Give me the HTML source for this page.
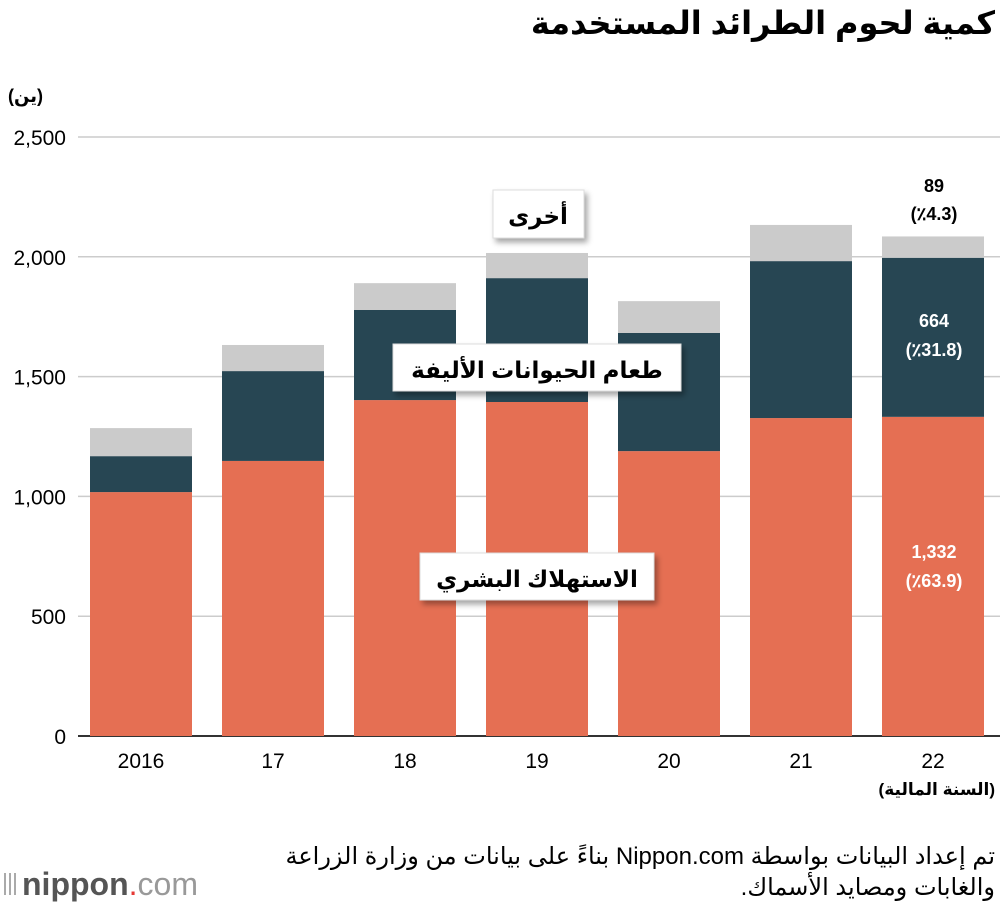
<!DOCTYPE html>
<html><head><meta charset="utf-8">
<style>
body{margin:0;background:#fff;width:1000px;height:906px;overflow:hidden;font-family:"Liberation Sans","Noto Sans CJK SC",sans-serif}
svg{position:absolute;left:0;top:0}
.ar{font-family:"Liberation Sans","Noto Sans CJK SC","DejaVu Sans",sans-serif}
</style></head><body>
<svg id="c" width="1000" height="906" xmlns="http://www.w3.org/2000/svg">
<defs><filter id="sh" x="-20%" y="-40%" width="150%" height="200%"><feDropShadow dx="3" dy="4" stdDeviation="3" flood-color="#000" flood-opacity="0.35"/></filter></defs>
<text x="995" y="34" text-anchor="start" direction="rtl" font-size="32" font-weight="bold" class="ar">كمية لحوم الطرائد المستخدمة</text>
<text x="8" y="102" font-size="18" font-weight="bold" class="ar">(ين)</text>
<g id="grid"></g><g id="bars"></g><g id="xl"></g>
<text x="995" y="795" text-anchor="end" font-size="17" font-weight="bold" class="ar">(السنة المالية)</text>
<g filter="url(#sh)">
<rect x="493" y="190" width="91" height="48" fill="#fff" stroke="#ddd"/>
<rect x="393" y="344" width="288" height="47" fill="#fff" stroke="#ddd"/>
<rect x="420" y="553" width="234" height="47" fill="#fff" stroke="#ddd"/>
</g>
<text x="538" y="224" text-anchor="middle" font-size="23" font-weight="bold" class="ar">أخرى</text>
<text x="537" y="378" text-anchor="middle" font-size="23" font-weight="bold" class="ar">طعام الحيوانات الأليفة</text>
<text x="537" y="587" text-anchor="middle" font-size="23" font-weight="bold" class="ar">الاستهلاك البشري</text>
<g font-size="18" font-weight="bold" text-anchor="middle">
<text x="934" y="192">89</text>
<text x="934" y="220">(٪4.3)</text>
<text x="934" y="327" fill="#fff">664</text>
<text x="934" y="356" fill="#fff">(٪31.8)</text>
<text x="934" y="558" fill="#fff">1,332</text>
<text x="934" y="587" fill="#fff">(٪63.9)</text>
</g>
<text x="995" y="864" text-anchor="start" direction="rtl" font-size="24" class="ar">تم إعداد البيانات بواسطة Nippon.com بناءً على بيانات من وزارة الزراعة</text>
<text x="995" y="895" text-anchor="start" direction="rtl" font-size="24" class="ar">والغابات ومصايد الأسماك.</text>
<g>
<rect x="4" y="873" width="2" height="22" fill="#aaa"/><rect x="9" y="873" width="2" height="22" fill="#aaa"/><rect x="14" y="873" width="2" height="22" fill="#aaa"/>
<text x="22" y="895" font-size="32" fill="#555"><tspan font-weight="bold">nippon</tspan><tspan fill="#e53935">.</tspan><tspan fill="#999">com</tspan></text>
</g>
</svg>
<script>
const years=["2016","17","18","19","20","21","22"];
const human=[1018,1148,1402,1394,1189,1327,1332];
const pet=[150,375,376,517,493,655,664];
const other=[117,109,112,105,133,151,89];
const ticks=[0,500,1000,1500,2000,2500];
const tickLabels=["0","500","1,000","1,500","2,000","2,500"];
const NS="http://www.w3.org/2000/svg";
const y=v=>736-v*(599/2500);
const x=i=>90+i*132;
const bw=102;
function mk(t,a,p){const e=document.createElementNS(NS,t);for(const k in a)e.setAttribute(k,a[k]);p.appendChild(e);return e;}
const g=document.getElementById('grid');
ticks.forEach((t,i)=>{
 const l=mk('line',{x1:78,x2:1000,y1:y(t),y2:y(t),stroke:t===0?'#333':'#ccc','stroke-width':t===0?2:1.5},g);
 
 
 const tx=mk('text',{x:66,y:y(t)+8,'text-anchor':'end','font-size':21},g);
 tx.textContent=tickLabels[i];
 
 
});
const b=document.getElementById('bars'),xl=document.getElementById('xl');
years.forEach((yr,i)=>{
 const h=human[i],p=pet[i],o=other[i];
 const r1=mk('rect',{x:x(i),y:y(h),width:bw,height:y(0)-y(h),fill:'#e56f53'},b);
 
 
 const r2=mk('rect',{x:x(i),y:y(h+p),width:bw,height:y(h)-y(h+p),fill:'#274653'},b);
 
 
 const r3=mk('rect',{x:x(i),y:y(h+p+o),width:bw,height:y(h+p)-y(h+p+o),fill:'#cbcbcb'},b);
 
 
 const t=mk('text',{x:x(i)+bw/2,y:768,'text-anchor':'middle','font-size':21},xl);
 t.textContent=yr;
 
 
});
</script>
</body></html>
